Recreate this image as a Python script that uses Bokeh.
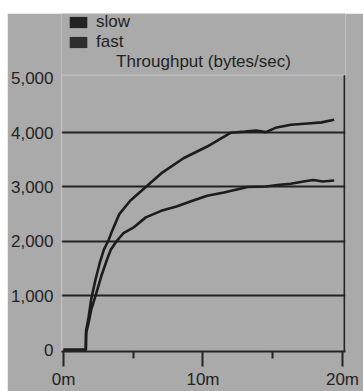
import numpy as np
from bokeh.plotting import figure
from bokeh.models import (Range1d, FixedTicker, LinearAxis, Label, Legend, LegendItem,
                          NumeralTickFormatter, BoxAnnotation)
from bokeh.embed import file_html
from bokeh.resources import INLINE

# ---- data (minutes, bytes/sec) ----
upper_t = [0, 1.6, 1.62, 1.8, 2.0, 2.3, 2.6, 2.9, 3.2, 3.5, 4.0, 4.8, 5.9, 7.0, 8.6,
           10.3, 12.0, 13.0, 13.8, 14.5, 15.2, 16.3, 17.5, 18.5, 19.4]
upper_v = [0, 0, 350, 600, 950, 1300, 1600, 1850, 2000, 2200, 2500, 2750, 3000, 3250, 3530,
           3745, 4000, 4020, 4040, 4010, 4090, 4145, 4170, 4190, 4240]
lower_t = [0, 1.6, 1.62, 1.8, 2.0, 2.3, 2.7, 3.1, 3.4, 3.8, 4.3, 5.0, 5.9, 7.0, 8.1,
           9.2, 10.3, 11.5, 13.2, 14.5, 15.5, 16.3, 17.2, 17.9, 18.6, 19.4]
lower_v = [0, 0, 300, 500, 750, 1000, 1350, 1650, 1850, 2000, 2150, 2250, 2440, 2560, 2640,
           2740, 2840, 2900, 3000, 3010, 3040, 3060, 3100, 3130, 3100, 3120]
series_names = ["slow", "fast"]
y_ticks = [0, 1000, 2000, 3000, 4000, 5000]
grid_ticks = [1000, 2000, 3000, 4000]
x_ticks = [0, 10, 20]
x_minor = [5, 15]
x_labels = {0: "0m", 10: "10m", 20: "20m"}
title_text = "Throughput (bytes/sec)"

BG = "#aaaaaa"
INK = "#232323"
LIGHT = "#dedede"
FONT = "Liberation Sans"
FS = "17px"

X0, X1 = -0.143, 20.215
Y0, Y1 = -31, 6196
Y_FRAME_TOP = 5060

p = figure(width=356, height=378, output_backend="svg", toolbar_location=None,
           x_range=Range1d(X0, X1), y_range=Range1d(Y0, Y1),
           x_axis_location=None, y_axis_location=None,
           min_border_left=54, min_border_right=18, min_border_top=0, min_border_bottom=38)
p.margin = (13, 0, 0, 7)
p.background_fill_color = BG
p.border_fill_color = BG
p.outline_line_color = None

# axes
xax = LinearAxis(ticker=FixedTicker(ticks=x_ticks, minor_ticks=x_minor))
xax.major_label_overrides = x_labels
xax.axis_line_color = INK
xax.axis_line_width = 2
xax.major_tick_line_color = INK
xax.major_tick_line_width = 2
xax.major_tick_out = 15
xax.major_tick_in = 0
xax.minor_tick_line_color = INK
xax.minor_tick_line_width = 2
xax.minor_tick_out = 7
xax.minor_tick_in = 0
xax.major_label_standoff = 3
xax.major_label_text_font = FONT
xax.major_label_text_font_size = FS
xax.major_label_text_color = INK
p.add_layout(xax, "below")

yax = LinearAxis(ticker=FixedTicker(ticks=y_ticks, minor_ticks=[]))
yax.formatter = NumeralTickFormatter(format="0,0")
yax.axis_line_color = None
yax.major_tick_line_color = None
yax.minor_tick_line_color = None
yax.major_tick_out = 0
yax.major_tick_in = 0
yax.major_label_standoff = 8
yax.major_label_text_font = FONT
yax.major_label_text_font_size = FS
yax.major_label_text_color = INK
p.add_layout(yax, "left")

p.xgrid.visible = False
p.ygrid.ticker = FixedTicker(ticks=grid_ticks)
p.ygrid.grid_line_color = INK
p.ygrid.grid_line_width = 2
p.ygrid.grid_line_alpha = 1

# sunken plot frame: light top/left, dark right
p.add_layout(BoxAnnotation(left=X0, right=X1, bottom=Y0, top=Y_FRAME_TOP,
                           fill_alpha=0, line_color=LIGHT, line_width=2, level="underlay"))
p.add_layout(BoxAnnotation(left=X1 - 0.14, right=X1, bottom=Y0, top=Y_FRAME_TOP,
                           fill_color=INK, fill_alpha=1, line_color=None, level="underlay"))

# series
p.line(upper_t, upper_v, line_color="#1c1c1c", line_width=2.6)
p.line(lower_t, lower_v, line_color="#1c1c1c", line_width=2.6)

# legend with square swatches (renderers hold one non-drawable row)
nan = [np.nan]
sw1 = p.quad(left=nan, right=nan, top=nan, bottom=nan, fill_color="#222222", line_color=None)
sw2 = p.quad(left=nan, right=nan, top=nan, bottom=nan, fill_color="#2e2e2e", line_color=None)
legend = Legend(items=[LegendItem(label=series_names[0], renderers=[sw1]),
                       LegendItem(label=series_names[1], renderers=[sw2])],
                location=(6, 299), orientation="vertical",
                padding=0, margin=0, spacing=0, glyph_width=22, glyph_height=14,
                label_height=20, label_standoff=7,
                label_text_font=FONT, label_text_font_size=FS, label_text_color=INK,
                background_fill_alpha=0, border_line_color=None)
p.add_layout(legend, "center")

p.add_layout(Label(x=142, y=290, x_units="screen", y_units="screen", text=title_text,
                   text_align="center", text_baseline="middle", text_font=FONT,
                   text_font_size=FS, text_color=INK))

open("out.html", "w").write(file_html(p, INLINE))
